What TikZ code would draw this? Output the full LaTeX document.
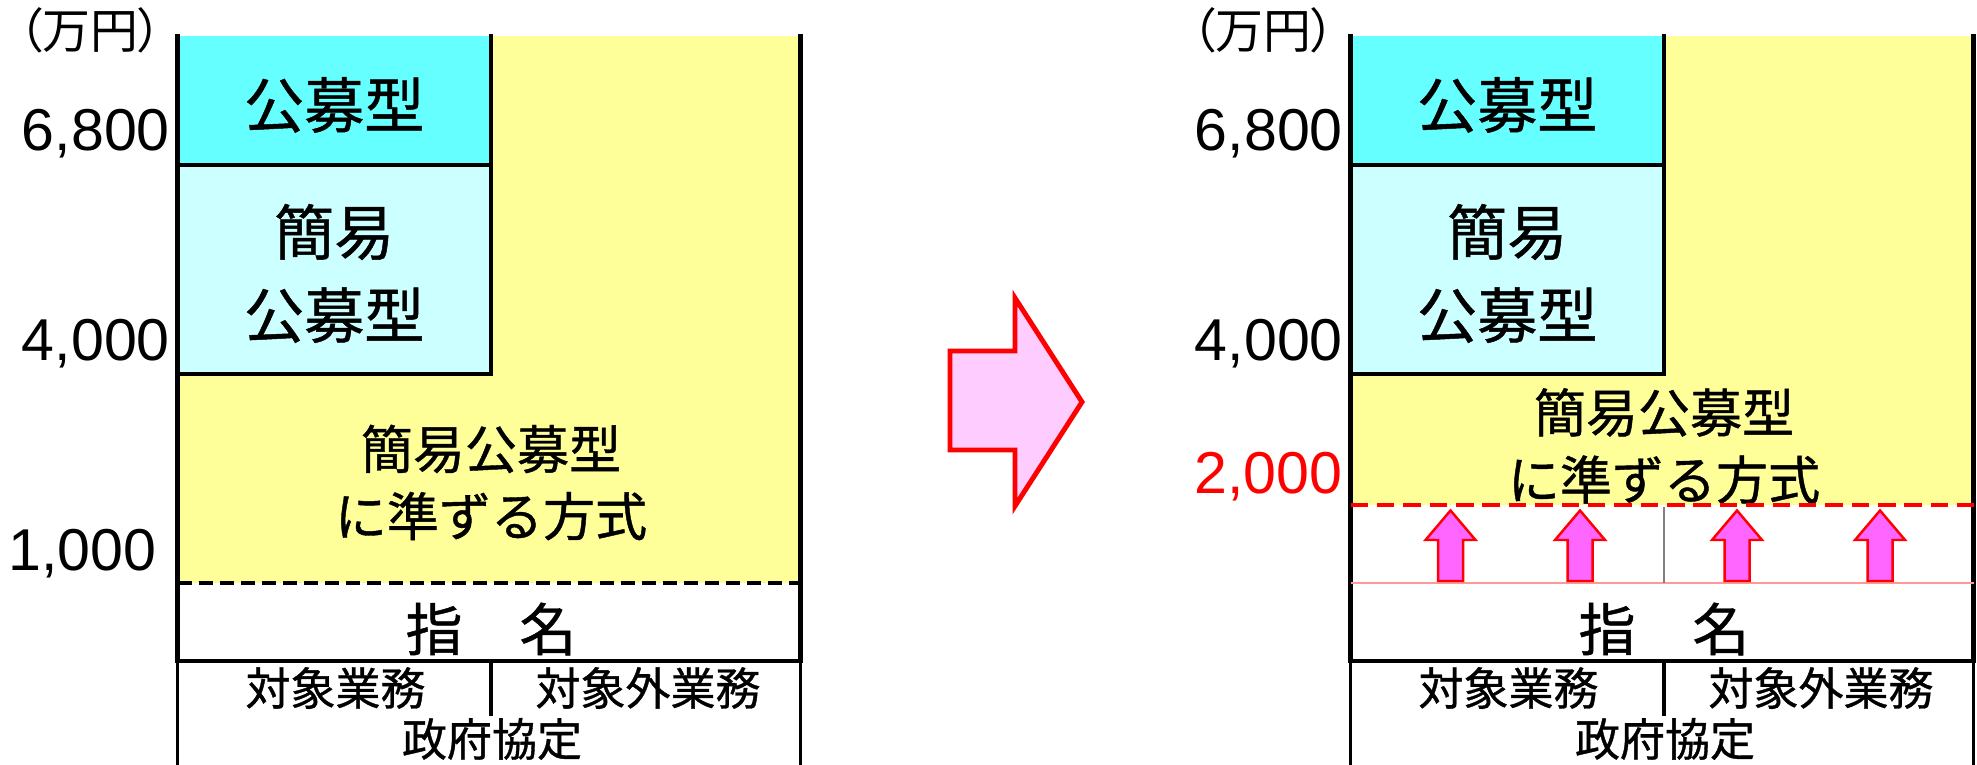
\documentclass[tikz,border=0pt]{standalone}
\usepackage{fontspec}
\setmainfont{Liberation Sans}
\newfontfamily\jpfont[FakeBold=0.8]{Noto Sans CJK JP}
\newfontfamily\jppfont[RawFeature=+palt]{Noto Sans CJK JP}
\usepackage{tikz}
\definecolor{kobo}{HTML}{66FFFF}
\definecolor{kanikobo}{HTML}{CCFFFF}
\definecolor{junzuru}{HTML}{FFFF99}
\definecolor{upfill}{HTML}{FF66FF}
\definecolor{bigfill}{HTML}{FFCCFF}
\definecolor{pinkline}{HTML}{FF9999}
\tikzset{frame/.style = {line width = 1.4pt}}
\tikzset{thinframe/.style = {line width = 1pt}}
\tikzset{num/.style = {font = \fontsize{16.8}{18}\selectfont, inner sep = 0, anchor = base east}}
\tikzset{jbig/.style = {font = \jpfont\fontsize{17.1}{23.6}\selectfont, inner sep = 0, align = center}}
\tikzset{jmid/.style = {font = \jpfont\fontsize{14.8}{19.1}\selectfont, inner sep = 0, align = center}}
\tikzset{jshimei/.style = {font = \jpfont\fontsize{16.2}{18}\selectfont, inner sep = 0}}
\tikzset{jsmall/.style = {font = \jpfont\fontsize{12.8}{15}\selectfont, inner sep = 0}}
\tikzset{unit/.style = {font = \jppfont\fontsize{13.6}{15}\selectfont, inner sep = 0}}
\tikzset{bigarrow/.style = {fill = bigfill, draw = red, line width = 1.4pt}}
\tikzset{uparrow/.style = {fill = upfill, draw = red, line width = 0.7pt}}

\begin{document}
\begin{tikzpicture}[x = 0.01cm, y = -0.01cm]
      \useasboundingbox (0, 0) rectangle (1977, 765);

      \foreach \s/\yb/\ty/\p in {177.5/583/482.5/L, 1350.5/505/446/R} {
        \begin{scope}[shift = {(\s, 0)}]
          \fill [kobo] (0, 36) rectangle (313.5, 165);
          \fill [kanikobo] (0, 165) rectangle (313.5, 374);
          \fill [junzuru] (313.5, 36) rectangle (623, \yb);
          \fill [junzuru] (0, 374) rectangle (313.5, \yb);

          \draw [frame] (0, 34.5) -- (0, 661);
          \draw [frame] (623, 34.5) -- (623, 661);
          \draw [frame] (313.5, 34.5) -- (313.5, 374) -- (0, 374);
          \draw [frame] (0, 165) -- (313.5, 165);
          \draw [frame] (-2.5, 661) -- (625.5, 661);
          \draw [thinframe] (0, 661) -- (0, 765);
          \draw [thinframe] (623, 661) -- (623, 765);
          \draw [thinframe] (313.5, 661) -- (313.5, 716.5);

          \node [unit] (\p-unit) at (-87, 30) {（万円）};
          \node [num] (\p-6800) at (-7, 151) {6,800};
          \node [num] (\p-4000) at (-7, 361) {4,000};

          \node [jbig] (\p-kobo) at (156.75, 105) {公募型};
          \node [jbig] (\p-kani) at (156.75, 273.5) {簡易\\公募型};
          \node [jmid] (\p-jun) at (313.5, \ty) {簡易公募型\\に準ずる方式};
          \node [jshimei] (\p-shimei) at (313.5, 629) {指　名};
          \node [jsmall] (\p-taisho) at (158, 688) {対象業務};
          \node [jsmall] (\p-taishogai) at (470.5, 688) {対象外業務};
          \node [jsmall] (\p-seifu) at (314.5, 739) {政府協定};
        \end{scope}
      }

      % before
      \draw [frame, dash pattern = on 4pt off 2pt] (177.5, 583) -- (800.5, 583);
      \node [num] (L-1000) at (-20.3 + 177.5, 571) {1,000};

      % after
      \draw [pinkline, line width = 0.55pt] (1350.5, 583) -- (1973.5, 583);
      \draw [gray, line width = 0.7pt] (1664, 507) -- (1664, 583);
      \draw [red, line width = 1.15pt, dash pattern = on 5pt off 2.5pt] (1350.5, 505) -- (1973.5, 505);
      \node [num, red] (R-2000) at (1342.7, 494) {2,000};
      \foreach \x in {1450.5, 1580, 1737, 1880}
        \draw [uparrow] ({\x - 12.5}, 581) -- ({\x + 12.5}, 581) -- ({\x + 12.5}, 540)
          -- ({\x + 25}, 540) -- (\x, 510.5) -- ({\x - 25}, 540) -- ({\x - 12.5}, 540) -- cycle;

      \draw [bigarrow] (950, 351) -- (1015, 351) -- (1015, 298) -- (1082, 402)
        -- (1015, 506) -- (1015, 450) -- (950, 450) -- cycle;
    \end{tikzpicture}
\end{document}
